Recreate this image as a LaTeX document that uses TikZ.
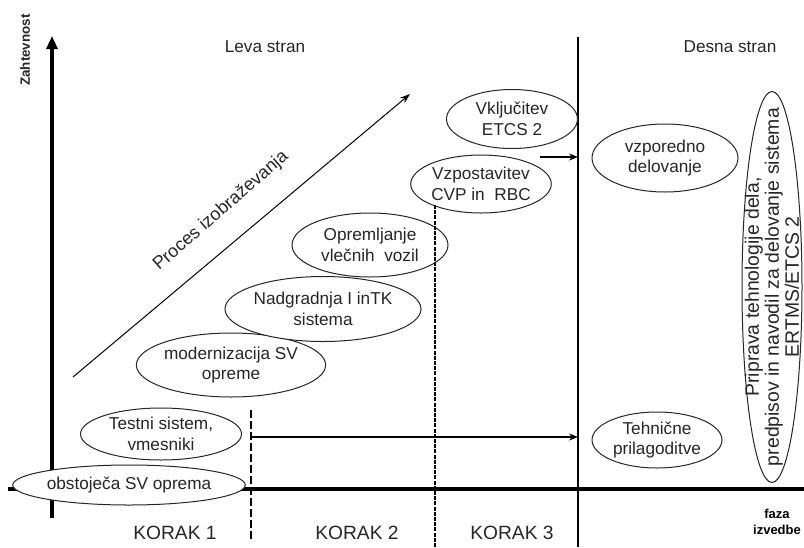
\documentclass[tikz,border=0pt]{standalone}
\usepackage{fontspec}
\setmainfont{Liberation Sans}
\usetikzlibrary{shapes.geometric,arrows.meta}
\begin{document}
\begin{tikzpicture}[x=0.5pt,y=-0.5pt,
  txt/.style={font=\fontsize{8.6}{10.2}\selectfont, align=center, inner sep=0pt, text=black!85},
  small/.style={font=\bfseries\fontsize{6.5}{8.2}\selectfont, align=center, inner sep=0pt},
  ell/.style 2 args={ellipse, draw=black!85, fill=white, line width=0.5pt, inner sep=0pt,
     minimum width=#1*0.5pt, minimum height=#2*0.5pt, txt},
  axis/.style={line width=1.8pt},
  arr/.style={line width=0.7pt, -{Stealth[length=4.5pt,width=3.5pt]}},
  dash1/.style={line width=0.55pt, dash pattern=on 4pt off 1.5pt},
  dash2/.style={line width=1pt, dash pattern=on 2pt off 0.6pt}]
\useasboundingbox (0,0) rectangle (804,547);

% axes
\coordinate (yb) at (52,518);
\coordinate (yt) at (52,36);
\coordinate (xl) at (8,489);
\coordinate (xr) at (804,489);
\draw[axis] (xl) -- (xr);
\draw[axis,-{Triangle[length=6.5pt,width=5.5pt]}] (yb) -- (yt);

% separator lines
\coordinate (st) at (578,37);
\coordinate (sb) at (578,547);
\draw[line width=0.7pt] (st) -- (sb);
\coordinate (d1t) at (251,410);
\coordinate (d1b) at (251,540);
\draw[dash1] (d1t) -- (d1b);

% labels
\node[txt] (zaht) at (25,50) [rotate=90, font=\bfseries\fontsize{6.7}{8}\selectfont] {Zahtevnost};
\node[txt] (leva) at (265,47) {Leva stran};
\node[txt] (desna) at (730,47) {Desna stran};
\node[txt, font=\fontsize{9.6}{11}\selectfont] (k1) at (175,533) {KORAK 1};
\node[txt, font=\fontsize{9.6}{11}\selectfont] (k2) at (357,533) {KORAK 2};
\node[txt, font=\fontsize{9.6}{11}\selectfont] (k3) at (512,533) {KORAK 3};
\node[small] (faza) at (777,522) {faza\\izvedbe};

% diagonal arrow
\coordinate (ps) at (73,377);
\coordinate (pe) at (410,94);
\draw[line width=0.5pt, -{Stealth[length=5pt,width=3.5pt]}] (ps) -- (pe);
\node[txt, font=\fontsize{9}{10}\selectfont, rotate=41] (proc) at (221,211) {Proces izobraževanja};

% ellipses
\node[ell={206}{40}] (e1) at (129,485) {obstoječa SV oprema};
\node[ell={161}{52}] (e2) at (161,434) {Testni sistem,\\vmesniki};
\node[ell={182}{64}] (e3) at (231,365) {modernizacija SV\\opreme};
\node[ell={163}{65}] (e4) at (323,309) {Nadgradnja I inTK\\sistema};
\node[ell={156}{64}] (e5) at (370,245) {Opremljanje\\vlečnih\ \ vozil};
\node[ell={132}{58}] (e6) at (481,184) {Vzpostavitev\\CVP in\ \ RBC};
\node[ell={131}{59}] (e7) at (512,119) {Vključitev\\ETCS 2};
\node[ell={146}{68}] (e8) at (665,158) {vzporedno\\delovanje};
\node[ell={130}{56}] (e9) at (657,440) {Tehnične\\prilagoditve};
\node[ell={60}{391}] (e10) at (772,287) {};
\node[txt, rotate=90, font=\fontsize{9.7}{10}\selectfont] (e10t) at (e10) {Priprava tehnologije dela,\\predpisov in navodil za delovanje sistema\\ERTMS/ETCS 2};

% dense dashed line
\coordinate (d2t) at (435,205);
\coordinate (d2b) at (435,547);
\draw[dash2] (d2t) -- (d2b);

% arrows
\coordinate (a1s) at (251,437);
\coordinate (a1e) at (578,437);
\draw[arr] (a1s) -- (a1e);
\coordinate (a2s) at (540,157);
\coordinate (a2e) at (578,157);
\draw[arr] (a2s) -- (a2e);
\end{tikzpicture}
\end{document}
